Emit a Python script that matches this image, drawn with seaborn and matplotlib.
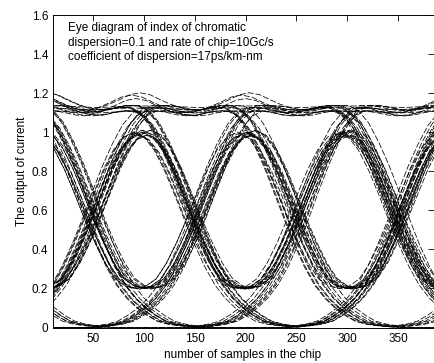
import numpy as np
import pandas as pd
import matplotlib
matplotlib.use("Agg")
import matplotlib.pyplot as plt
import seaborn as sns

# Received current over one chip, sampled at offsets from the chip centre,
# for each (previous, current, next) chip value.
seg_offsets = [-50, -40, -30, -20, -10, 0, 10, 20, 30, 40, 50]
seg_000 = [0.0, 0.0, 0.0, 0.0, 0.0, 0.0, 0.0, 0.0, 0.0, 0.0, 0.0]
seg_001 = [0.005, 0.01, 0.018, 0.032, 0.062, 0.1, 0.15, 0.217, 0.31, 0.423, 0.55]
seg_100 = [0.55, 0.423, 0.31, 0.217, 0.15, 0.1, 0.062, 0.032, 0.018, 0.01, 0.005]
seg_101 = [0.555, 0.433, 0.328, 0.249, 0.212, 0.2, 0.212, 0.249, 0.328, 0.433, 0.555]
seg_010 = [0.55, 0.682, 0.807, 0.909, 0.976, 1.0, 0.976, 0.909, 0.807, 0.682, 0.55]
seg_011 = [0.555, 0.692, 0.825, 0.941, 1.038, 1.1, 1.126, 1.126, 1.117, 1.105, 1.1]
seg_110 = [1.1, 1.105, 1.117, 1.126, 1.126, 1.1, 1.038, 0.941, 0.825, 0.692, 0.555]
seg_111_peak = [1.105, 1.114, 1.132, 1.155, 1.18, 1.19, 1.18, 1.155, 1.132, 1.114, 1.105]
seg_111_flat = [1.115, 1.117, 1.12, 1.122, 1.123, 1.123, 1.123, 1.122, 1.12, 1.117, 1.115]

chip_centres = [0, 100, 200, 300, 400]

# Chip sequences (chips at -200 ... 600 samples) of the recorded traces
chip_sequences = [
    "101010101", "010101010", "111111111", "000000000",
    "100110011", "011001100", "001101101", "110010010",
    "100100111", "011011000", "000111000", "111000111",
    "010001110", "101110001", "110100101", "001011010",
    "011100100", "100011011", "111010110", "000101001",
    "010110111", "101001000", "111101011", "000010100",
]
trace_delay = [-4, 3, 0, 1, -7, 6, -1, 4, -6, 7, 0, -3,
               8, -8, 2, -4, 1, -2, 5, -5, 3, -2, 0, 6]
sweep_shift = [-4.0, 0.0, 4.0]
sweep_gain = [1.0, 0.985, 1.01]

segments = {
    "000": seg_000, "001": seg_001, "100": seg_100, "101": seg_101,
    "010": seg_010, "011": seg_011, "110": seg_110,
}


def trace_points(bits):
    xs, ys = [], []
    for j, centre in enumerate(chip_centres):
        k = j + 2
        key = bits[k - 1:k + 2]
        if key == "111":
            seg = seg_111_flat if bits[k - 2] == "1" and bits[k + 2] == "1" else seg_111_peak
        else:
            seg = segments[key]
        start = 0 if j == 0 else 1
        xs.extend(centre + o for o in seg_offsets[start:])
        ys.extend(seg[start:])
    return xs, ys


rows = []
uid = 0
for bits, delay in zip(chip_sequences, trace_delay):
    xs, ys = trace_points(bits)
    for shift, gain in zip(sweep_shift, sweep_gain):
        for x, y in zip(xs, ys):
            rows.append({"sample": x + delay + shift, "current": y * gain, "trace": uid})
        uid += 1
df = pd.DataFrame(rows)

sns.set_theme(style="white")
plt.rcParams["font.family"] = ["Liberation Sans", "DejaVu Sans"]

fig = plt.figure(figsize=(4.34, 3.63), dpi=100)
ax = fig.add_axes([52.5 / 434, (363 - 327.5) / 363, (433.5 - 52.5) / 434, (327.5 - 15) / 363])

for i, (tid, grp) in enumerate(df.groupby("trace")):
    sns.lineplot(data=grp, x="sample", y="current", ax=ax, color="black",
                 linewidth=0.55, estimator=None, sort=False, legend=False)
    ax.lines[-1].set_linestyle((i % 7 * 1.5, (8, 2.5)))

ax.set_xlim(10, 385)
ax.set_ylim(0, 1.6)
ax.set_xticks([50, 100, 150, 200, 250, 300, 350])
ax.set_yticks([0, 0.2, 0.4, 0.6, 0.8, 1.0, 1.2, 1.4, 1.6])
ax.set_yticklabels(["0", "0.2", "0.4", "0.6", "0.8", "1", "1.2", "1.4", "1.6"])
ax.tick_params(direction="in", top=True, right=True, length=4, width=0.6,
               labelsize=8.5, colors="black")
ax.tick_params(axis="x", pad=4)
ax.tick_params(axis="y", pad=3)
for s in ax.spines.values():
    s.set_color("black")
    s.set_linewidth(0.7)
ax.set_xlabel("number of samples in the chip", fontsize=8.5, color="black", labelpad=3)
ax.set_ylabel("The output of current", fontsize=8.5, color="black", labelpad=3)

ax.text(25, 1.565,
        "Eye diagram of index of chromatic\n"
        "dispersion=0.1 and rate of chip=10Gc/s\n"
        "coefficient of dispersion=17ps/km-nm",
        fontsize=8.5, va="top", ha="left", linespacing=1.3, color="black")

fig.savefig("out.png", dpi=100)
